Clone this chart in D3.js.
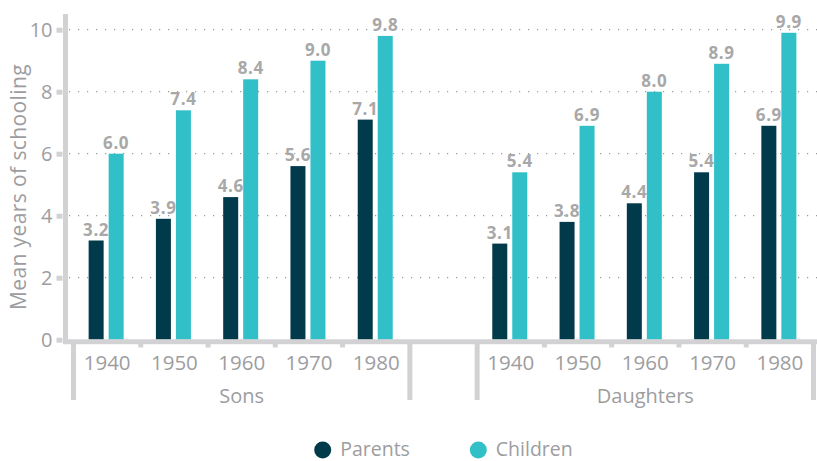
<!DOCTYPE html>
<html><head><meta charset="utf-8">
<script src="https://cdn.jsdelivr.net/npm/d3@7"></script>
<style>body{margin:0;background:#fff}svg{display:block}text{font-family:"Open Sans",Lato,sans-serif}</style>
</head><body><svg id="c" width="817" height="461"></svg>
<script>
const groups = ["Sons", "Daughters"];
const years = ["1940", "1950", "1960", "1970", "1980"];
const parents = { Sons: [3.2, 3.9, 4.6, 5.6, 7.1], Daughters: [3.1, 3.8, 4.4, 5.4, 6.9] };
const children = { Sons: [6.0, 7.4, 8.4, 9.0, 9.8], Daughters: [5.4, 6.9, 8.0, 8.9, 9.9] };
const yTicks = [0, 2, 4, 6, 8, 10];
const seriesNames = ["Parents", "Children"];
const colors = ["#013a4b", "#31bfc8"];

const svg = d3.select("#c");
const slots = ["Sons|1940","Sons|1950","Sons|1960","Sons|1970","Sons|1980","gap",
  "Daughters|1940","Daughters|1950","Daughters|1960","Daughters|1970","Daughters|1980"];
const x = d3.scaleBand().domain(slots).range([73.5, 813.5]).padding(0);
const y = d3.scaleLinear().domain([0, 10]).range([339.7, 29.7]);
const axisGray = "#d2d2d4", textGray = "#9d9d9f";

// gridlines
svg.append("g").selectAll("line").data(yTicks.filter(d => d > 0)).join("line")
  .attr("x1", 69).attr("x2", 817).attr("y1", d => y(d)).attr("y2", d => y(d))
  .attr("stroke", "#9a9a9a").attr("stroke-width", 1.2).attr("stroke-dasharray", "1.2,7.8");

// y axis
const yAxis = d3.axisLeft(y).tickValues(yTicks).tickSize(6).tickPadding(4).tickFormat(d3.format("d"));
const ya = svg.append("g").attr("transform", "translate(62.5,0)").call(yAxis);
ya.select(".domain").remove();
ya.selectAll(".tick line").attr("stroke", axisGray).attr("stroke-width", 5).attr("x2", 0).attr("x1", -6);
ya.selectAll(".tick text").attr("fill", textGray).attr("font-size", 20).attr("font-family", "Open Sans");
svg.append("line").attr("x1", 65.5).attr("x2", 65.5).attr("y1", 14).attr("y2", 344)
  .attr("stroke", axisGray).attr("stroke-width", 5);

// bars
const data = [];
groups.forEach(g => years.forEach((yr, i) => {
  data.push({ slot: g + "|" + yr, s: 0, v: parents[g][i] });
  data.push({ slot: g + "|" + yr, s: 1, v: children[g][i] });
}));
const bw = 15, gapIn = 5;
const bx = d => x(d.slot) + x.bandwidth() / 2 - (bw + gapIn / 2) + d.s * (bw + gapIn) - 1;
svg.append("g").selectAll("rect").data(data).join("rect")
  .attr("x", bx).attr("width", bw)
  .attr("y", d => y(d.v)).attr("height", d => y(0) - y(d.v))
  .attr("fill", d => colors[d.s]);
svg.append("g").selectAll("text").data(data).join("text")
  .attr("x", d => bx(d) + bw / 2).attr("y", d => y(d.v) - 5)
  .attr("text-anchor", "middle").attr("font-weight", 700).attr("font-size", 17)
  .attr("letter-spacing", 0.6)
  .attr("fill", "#a8a8a8").text(d => d3.format(".1f")(d.v));

// x axis line
svg.append("line").attr("x1", 63).attr("x2", 817).attr("y1", 341.7).attr("y2", 341.7)
  .attr("stroke", axisGray).attr("stroke-width", 5);

// small ticks between years, group separators
const inner = [];
groups.forEach(g => years.slice(1).forEach(yr => inner.push(g + "|" + yr)));
svg.append("g").selectAll("line").data(inner).join("line")
  .attr("x1", d => x(d)).attr("x2", d => x(d)).attr("y1", 343).attr("y2", 347.5)
  .attr("stroke", axisGray).attr("stroke-width", 5);
const bounds = [x("Sons|1940"), x("gap"), x("Daughters|1940"), x("Daughters|1980") + x.bandwidth()];
svg.append("g").selectAll("line").data(bounds).join("line")
  .attr("x1", d => d).attr("x2", d => d).attr("y1", 343).attr("y2", 400)
  .attr("stroke", axisGray).attr("stroke-width", 5);

// year labels
svg.append("g").selectAll("text").data(data.filter(d => d.s === 0)).join("text")
  .attr("x", d => x(d.slot) + x.bandwidth() / 2).attr("y", 370)
  .attr("text-anchor", "middle").attr("font-size", 20.5).attr("fill", textGray)
  .text(d => d.slot.split("|")[1]);
// group labels
svg.append("g").selectAll("text").data(groups).join("text")
  .attr("x", (g, i) => (bounds[i * 2] + bounds[i * 2 + 1]) / 2).attr("y", 403)
  .attr("text-anchor", "middle").attr("font-size", 20).attr("fill", textGray).text(d => d);

// y title
svg.append("text").attr("transform", "translate(26,187) rotate(-90)")
  .attr("text-anchor", "middle").attr("font-size", 21).attr("letter-spacing", 0.4).attr("fill", textGray)
  .text("Mean years of schooling");

// legend
const legX = [322.7, 478.3];
const lg = svg.append("g").selectAll("g").data(seriesNames).join("g")
  .attr("transform", (d, i) => `translate(${legX[i]},450)`);
lg.append("circle").attr("r", 8.5).attr("fill", (d, i) => colors[i]);
lg.append("text").attr("x", 17.5).attr("y", 6).attr("font-size", 19.5).attr("fill", textGray).text(d => d);
</script></body></html>
